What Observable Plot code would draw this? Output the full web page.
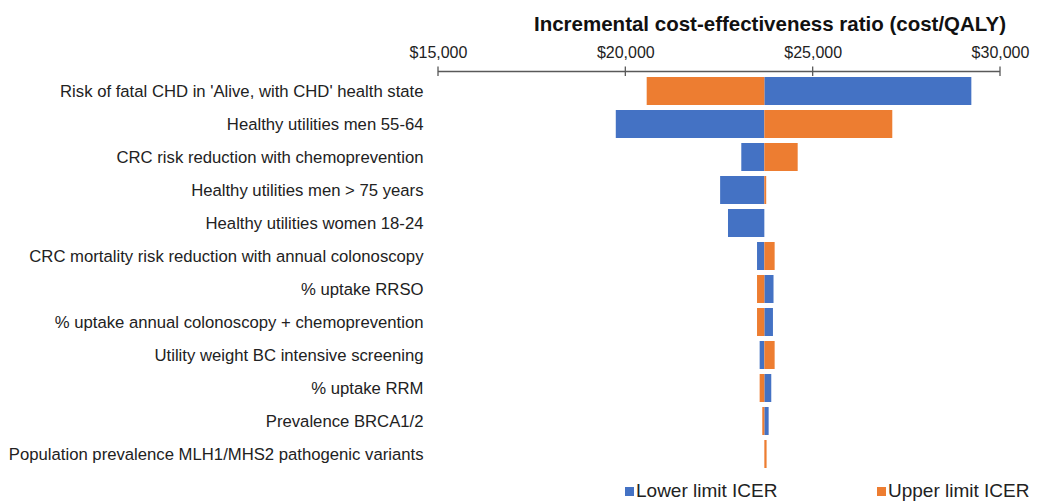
<!DOCTYPE html>
<html><head><meta charset="utf-8">
<script src="https://cdn.jsdelivr.net/npm/d3@7"></script>
<script src="https://cdn.jsdelivr.net/npm/@observablehq/plot@0.6"></script>
<style>
body{margin:0;background:#fff;font-family:"Liberation Sans",Arial,sans-serif;}
#wrap{position:relative;width:1040px;height:504px;overflow:hidden;}
#title{position:absolute;top:11.5px;left:770px;transform:translateX(-50%);font-size:20.5px;font-weight:bold;color:#111;white-space:nowrap;line-height:normal;}
.leg{position:absolute;font-size:19px;color:#222;white-space:nowrap;line-height:normal;}
.sw{position:absolute;width:9px;height:9px;}
</style></head><body>
<div id="wrap"><div id="title">Incremental cost-effectiveness ratio (cost/QALY)</div><div id="chart"></div><div id="legend"></div></div>
<script>
const parameters = [
  "Risk of fatal CHD in 'Alive, with CHD' health state",
  "Healthy utilities men 55-64",
  "CRC risk reduction with chemoprevention",
  "Healthy utilities men > 75 years",
  "Healthy utilities women 18-24",
  "CRC mortality risk reduction with annual colonoscopy",
  "% uptake RRSO",
  "% uptake annual colonoscopy + chemoprevention",
  "Utility weight BC intensive screening",
  "% uptake RRM",
  "Prevalence BRCA1/2",
  "Population prevalence MLH1/MHS2 pathogenic variants"
];
const lowerLimitICER = [29235, 19745, 23095, 22530, 22740, 23515, 23955, 23940, 23585, 23895, 23825, 23710];
const upperLimitICER = [20570, 27125, 24600, 23760, 23710, 23985, 23515, 23515, 23985, 23585, 23655, 23770];
const baseICER = 23710;
const xTicks = [15000, 20000, 25000, 30000];
const seriesNames = ["Lower limit ICER", "Upper limit ICER"];
const seriesColors = ["#4472C4", "#ED7D31"];

const rows = parameters.flatMap((p, i) => [
  {parameter: p, series: seriesNames[0], base: baseICER, value: lowerLimitICER[i]},
  {parameter: p, series: seriesNames[1], base: baseICER, value: upperLimitICER[i]}
]);

const font = '"Liberation Sans", Arial, sans-serif';
const chart = Plot.plot({
  width: 1040, height: 504,
  marginLeft: 438, marginRight: 40, marginTop: 71, marginBottom: 29,
  style: {fontFamily: font, background: "transparent"},
  x: {domain: [15000, 30000]},
  y: {domain: parameters, paddingInner: 0.14, paddingOuter: 0.075, label: null},
  color: {domain: seriesNames, range: seriesColors},
  marks: [
    Plot.barX(rows, {y: "parameter", x1: "base", x2: "value", fill: "series"}),
    Plot.axisX({anchor: "top", ticks: xTicks, tickFormat: d => "$" + d3.format(",")(d),
      tickSize: 0, tickPadding: 14, fontSize: 16, fill: "#222", label: null}),
    Plot.axisY({tickSize: 0, tickPadding: 15, fontSize: 16.7, fill: "#222", label: null})
  ]
});
document.getElementById("chart").appendChild(chart);

// axis line with crossing ticks, positioned through Plot's x scale
const xs = chart.scale("x");
const yLine = 71.5;
const g = d3.select(chart).append("g").attr("stroke", "#595959").attr("stroke-width", 1.3);
g.append("line").attr("x1", xs.apply(xTicks[0])).attr("x2", xs.apply(xTicks[xTicks.length - 1]))
  .attr("y1", yLine).attr("y2", yLine);
xTicks.forEach(t => g.append("line").attr("x1", xs.apply(t)).attr("x2", xs.apply(t))
  .attr("y1", yLine - 5).attr("y2", yLine + 4.5));

// legend
const legend = document.getElementById("legend");
const legPos = [{sw: 625, tx: 636}, {sw: 877, tx: 888}];
seriesNames.forEach((name, i) => {
  const s = document.createElement("div");
  s.className = "sw"; s.style.left = legPos[i].sw + "px"; s.style.top = "487px";
  s.style.background = seriesColors[i];
  legend.appendChild(s);
  const t = document.createElement("div");
  t.className = "leg"; t.style.left = legPos[i].tx + "px"; t.style.top = "479.5px";
  t.textContent = name;
  legend.appendChild(t);
});
</script>
</body></html>
